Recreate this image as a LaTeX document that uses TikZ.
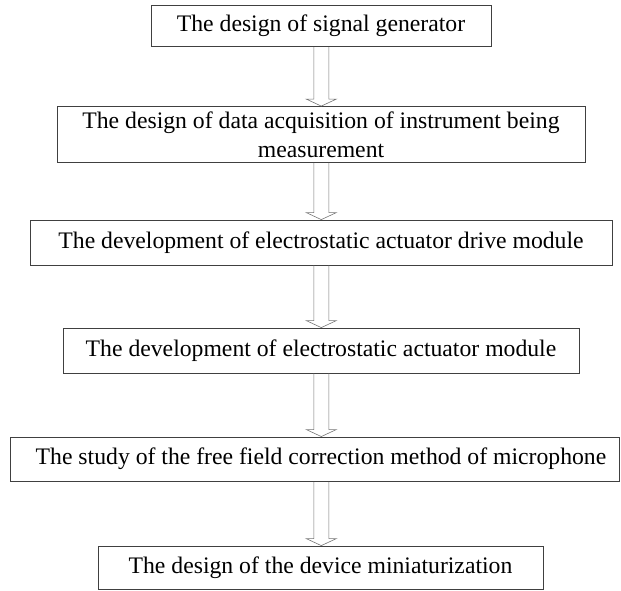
\documentclass[tikz,border=0pt]{standalone}
\usepackage{fontspec}
\setmainfont{Liberation Serif}
\usetikzlibrary{calc}

\tikzset{
  stage/.style={draw=black!75, line width=0.8pt, rectangle, align=center,
    font=\fontsize{23.7}{29}\selectfont, inner sep=0pt},
  hollow/.style={draw=black!55, line width=0.6pt, line join=miter}
}

% hollow block arrow from the bottom of #1 to the top of #2,
% centred on the vertical axis through the coordinate (spine)
\newcommand\blockarrow[2]{%
  \draw[hollow] let \p1=(#1.south), \p2=(#2.north), \p3=(spine) in
    (\x3-7.5pt,\y1) -- (\x3-7.5pt,\y2+7pt) -- (\x3-15pt,\y2+7pt) -- (\x3,\y2)
    -- (\x3+15pt,\y2+7pt) -- (\x3+7.5pt,\y2+7pt) -- (\x3+7.5pt,\y1);}

\begin{document}
\begin{tikzpicture}[x=1pt,y=1pt]
  \useasboundingbox (0,0) rectangle (621,-590);
  \coordinate (spine) at (321.3,0);

  \node[stage, minimum width=340pt, minimum height=41pt] (b1) at (321,-26.2)
    {The design of signal generator};
  \node[stage, minimum width=528pt, minimum height=56pt] (b2) at (321,-134.5)
    {The design of data acquisition of instrument being\\measurement};
  \node[stage, minimum width=582pt, minimum height=45pt] (b3) at (321,-242.5)
    {The development of electrostatic actuator drive module};
  \node[stage, minimum width=516pt, minimum height=45pt] (b4) at (321,-350.5)
    {The development of electrostatic actuator module};
  \node[stage, minimum width=609pt, minimum height=44.5pt] (b5) at (315,-459.2)
    {\hspace{12pt}The study of the free field correction method of microphone};
  \node[stage, minimum width=445pt, minimum height=43pt] (b6) at (320.5,-567.5)
    {The design of the device miniaturization};

  \blockarrow{b1}{b2}
  \blockarrow{b2}{b3}
  \blockarrow{b3}{b4}
  \blockarrow{b4}{b5}
  \blockarrow{b5}{b6}
\end{tikzpicture}
\end{document}
